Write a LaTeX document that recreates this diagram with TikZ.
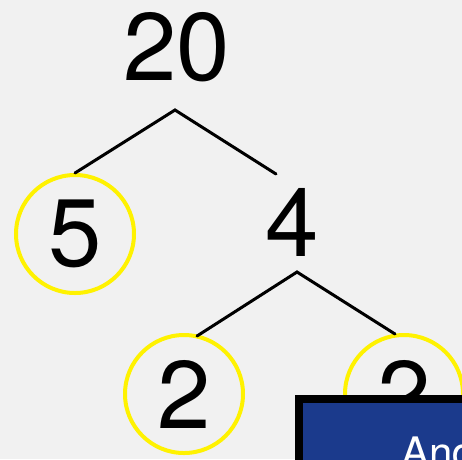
\documentclass[tikz,border=0pt]{standalone}
\usepackage{fontspec}
\setmainfont{TeX Gyre Heros}
\definecolor{paper}{HTML}{F1F1F1}
\definecolor{ring}{HTML}{FFF200}
\definecolor{banner}{HTML}{1B3A8C}
\begin{document}
\begin{tikzpicture}[x=1pt,y=-1pt,
  numeral/.style={font=\fontsize{96}{96}\selectfont, text=black, inner sep=0pt},
  prime/.style={numeral, circle, draw=ring, line width=4pt, minimum size=118pt},
  branch/.style={draw=black, line width=3pt, line cap=round, line join=miter}]
  \useasboundingbox (0,0) rectangle (462,459);
  \clip (0,0) rectangle (462,459);
  \fill[paper] (0,0) rectangle (462,459);

  % factor tree
  \node[numeral, anchor=base] (n20) at (176.5,80) {20};
  \node[prime] (p5) at (75,234) {5};
  \node[numeral, anchor=base] (n4) at (292.5,256) {4};
  \node[prime] (p2a) at (184,394) {2};
  \node[prime] (p2b) at (404,394) {2};

  \coordinate (fork1) at (175,110);
  \coordinate (tip4) at (276,174);
  \coordinate (fork2) at (297,272);
  \coordinate (tip2a) at (197,336);
  \coordinate (tip2b) at (395,334);

  \draw[branch] (p5.north) -- (fork1) -- (tip4);
  \draw[branch] (tip2a) -- (fork2) -- (tip2b);

  % caption banner in the lower right corner
  \fill[black] (295,395) rectangle (470,470);
  \fill[banner] (303,403) rectangle (470,470);
  \node[anchor=base west, inner sep=0pt, text=white,
        font=\fontsize{42}{42}\selectfont] (cap) at (401,467) {And};
\end{tikzpicture}
\end{document}
